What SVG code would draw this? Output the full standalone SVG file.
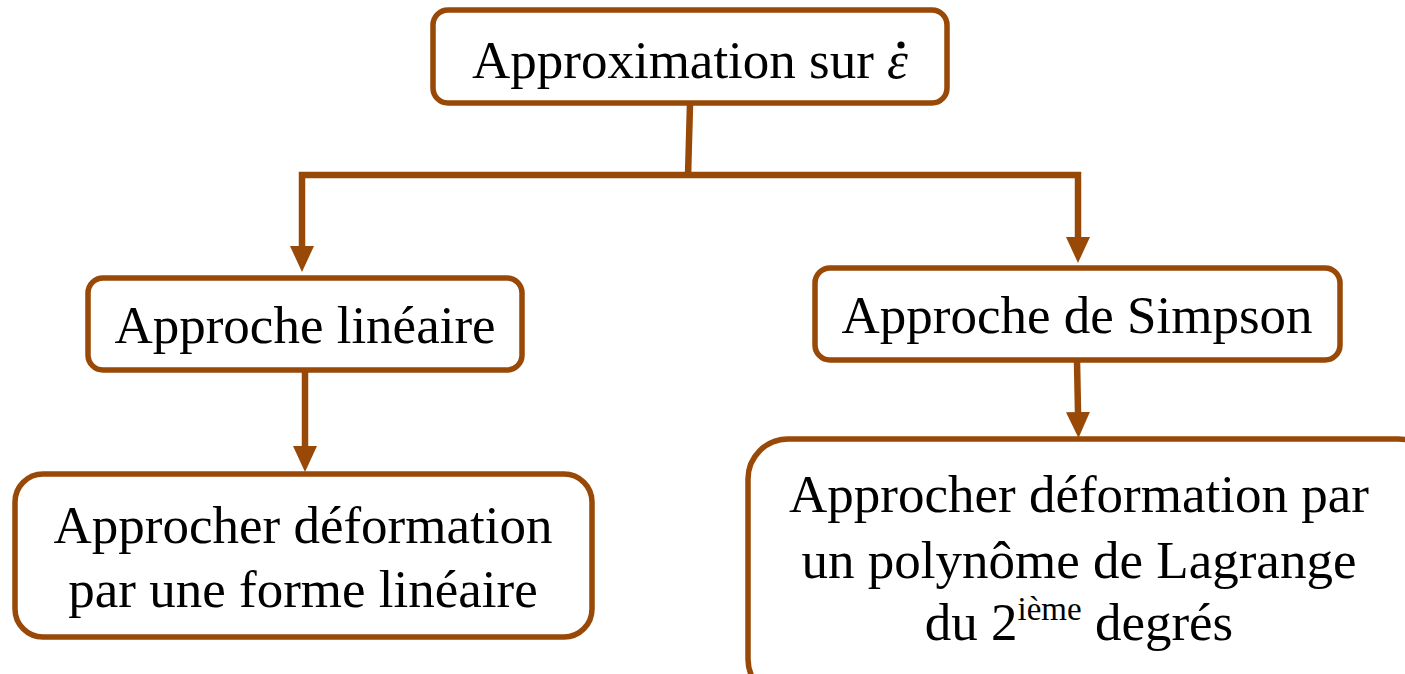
<svg xmlns="http://www.w3.org/2000/svg" width="1405" height="674" viewBox="0 0 1405 674">
<style>
.box{fill:#fff;stroke:#984807;stroke-width:5.5}
.t{font-family:"Liberation Serif","Times New Roman",serif;font-size:53px;fill:#000;text-anchor:middle}
.c{fill:none;stroke:#984807;stroke-width:6.5}
</style>
<defs>
<marker id="ah" markerUnits="userSpaceOnUse" markerWidth="26" markerHeight="24" viewBox="0 0 26 24" refX="0" refY="12" orient="auto">
<path d="M0,0 L26,12 L0,24 z" fill="#984807"/>
</marker>
</defs>
<rect width="1405" height="674" fill="#fff"/>
<g id="connectors">
<path class="c" d="M690,104 L688,176"/>
<path class="c" d="M299,175 L1081,175"/>
<path class="c" d="M302,172 L302,246" marker-end="url(#ah)"/>
<path class="c" d="M1078,172 L1078,237" marker-end="url(#ah)"/>
<path class="c" d="M305,370 L305,446" marker-end="url(#ah)"/>
<path class="c" d="M1077,361 L1078,412" marker-end="url(#ah)"/>
</g>
<g id="n_top">
<rect class="box" x="433" y="10" width="514" height="93" rx="15"/>
<text class="t" x="690" y="78">Approximation sur <tspan font-style="italic">ε</tspan></text>
<circle cx="901" cy="45" r="3.6" fill="#000"/>
</g>
<g id="n_lin">
<rect class="box" x="88" y="278" width="434" height="92" rx="15"/>
<text class="t" x="305" y="343">Approche linéaire</text>
</g>
<g id="n_simp">
<rect class="box" x="815" y="268" width="525" height="92" rx="15"/>
<text class="t" x="1077" y="333">Approche de Simpson</text>
</g>
<g id="n_lin2">
<rect class="box" x="15" y="474" width="577" height="163" rx="28"/>
<text class="t" x="303" y="543">Approcher déformation</text>
<text class="t" x="303" y="607">par une forme linéaire</text>
</g>
<g id="n_simp2">
<rect class="box" x="748" y="439" width="690" height="260" rx="40"/>
<text class="t" x="1079" y="512">Approcher déformation par</text>
<text class="t" x="1079" y="578">un polynôme de Lagrange</text>
<text class="t" x="1079" y="640">du 2<tspan font-size="33px" dy="-20">ième</tspan><tspan dy="20"> degrés</tspan></text>
</g>
</svg>
